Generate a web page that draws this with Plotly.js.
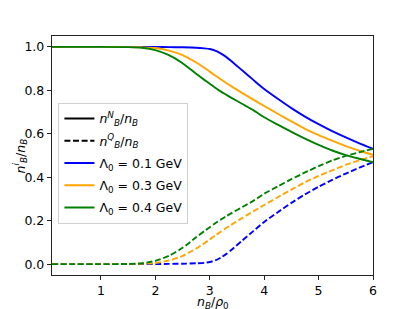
<!DOCTYPE html>
<html><head><meta charset="utf-8">
<script src="https://cdn.plot.ly/plotly-3.0.1.min.js"></script>
<style>html,body{margin:0;padding:0;background:#fff}#chart{width:415px;height:309px}</style>
</head><body><div id="chart"></div>
<script>
// density ratio n_B / rho_0
const xVals = [0.1, 0.5, 1.0, 1.5, 1.75, 2.0, 2.25, 2.5, 2.75, 2.9, 3.0, 3.1, 3.2, 3.3, 3.4, 3.6, 3.8, 4.0, 4.25, 4.5, 4.75, 5.0, 5.25, 5.5, 5.75, 6.0];
// nucleon fraction n_B^N / n_B
const nBlue   = [1.0, 1.0, 1.0, 1.0, 1.0, 1.0, 0.999, 0.998, 0.996, 0.993, 0.990, 0.983, 0.970, 0.954, 0.934, 0.891, 0.848, 0.806, 0.761, 0.718, 0.679, 0.644, 0.612, 0.583, 0.556, 0.531];
const nOrange = [1.0, 1.0, 1.0, 0.999, 0.998, 0.995, 0.983, 0.962, 0.928, 0.904, 0.886, 0.868, 0.851, 0.834, 0.818, 0.787, 0.757, 0.728, 0.692, 0.657, 0.623, 0.594, 0.568, 0.543, 0.522, 0.503];
const nGreen  = [1.0, 1.0, 1.0, 0.999, 0.996, 0.985, 0.962, 0.925, 0.876, 0.848, 0.830, 0.812, 0.795, 0.780, 0.765, 0.737, 0.709, 0.676, 0.642, 0.609, 0.578, 0.549, 0.523, 0.502, 0.485, 0.469];
// quark fraction n_B^Q / n_B
const qBlue   = [0.0, 0.0, 0.0, 0.0, 0.0, 0.0, 0.001, 0.002, 0.004, 0.006, 0.010, 0.017, 0.030, 0.046, 0.066, 0.109, 0.152, 0.194, 0.239, 0.282, 0.321, 0.356, 0.388, 0.417, 0.444, 0.469];
const qOrange = [0.0, 0.0, 0.0, 0.001, 0.002, 0.005, 0.017, 0.038, 0.072, 0.096, 0.114, 0.132, 0.149, 0.166, 0.182, 0.213, 0.243, 0.272, 0.308, 0.343, 0.377, 0.406, 0.432, 0.457, 0.478, 0.497];
const qGreen  = [0.0, 0.0, 0.0, 0.001, 0.004, 0.015, 0.038, 0.075, 0.124, 0.152, 0.170, 0.188, 0.205, 0.220, 0.235, 0.263, 0.291, 0.324, 0.358, 0.391, 0.422, 0.451, 0.477, 0.498, 0.515, 0.531];
const seriesNames = ["Λ<sub>0</sub> = 0.1 GeV", "Λ<sub>0</sub> = 0.3 GeV", "Λ<sub>0</sub> = 0.4 GeV"];
const seriesColors = ["#0000ff", "#ffa500", "#008000"];
const xTicks = [1, 2, 3, 4, 5, 6];
const yTicks = [0.0, 0.2, 0.4, 0.6, 0.8, 1.0];
const xTitle = "<i>n</i><sub><i>B</i></sub>/<i>ρ</i><sub>0</sub>";
const yTitle = "<i>n</i><sup><i>i</i></sup><sub><i>B</i></sub>/<i>n</i><sub><i>B</i></sub>";

const nSets = [nBlue, nOrange, nGreen];
const qSets = [qBlue, qOrange, qGreen];
const W = 1.9;
const DASH = "6px,2.6px";
const FS = 12.5;
const traces = [];
for (let i = 0; i < 3; i++) {
  traces.push({x: xVals, y: nSets[i], mode: "lines", line: {color: seriesColors[i], width: W, shape: "spline", smoothing: 0.6}, showlegend: false, hoverinfo: "skip"});
  traces.push({x: xVals, y: qSets[i], mode: "lines", line: {color: seriesColors[i], width: W, dash: DASH, shape: "spline", smoothing: 0.6}, showlegend: false, hoverinfo: "skip"});
}
// legend entries
traces.push({x: [null], y: [null], mode: "lines", line: {color: "#000", width: W}, legendgroup: "a", name: "<i>n</i><sup><i>N</i></sup><sub><i>B</i></sub>/<i>n</i><sub><i>B</i></sub>"});
traces.push({x: [null], y: [null], mode: "lines", line: {color: "#000", width: W, dash: DASH}, legendgroup: "b", name: "<i>n</i><sup><i>Q</i></sup><sub><i>B</i></sub>/<i>n</i><sub><i>B</i></sub>"});
for (let i = 0; i < 3; i++) {
  traces.push({x: [null], y: [null], mode: "lines", line: {color: seriesColors[i], width: W}, legendgroup: "c" + i, name: seriesNames[i]});
}

const axisCommon = {
  showline: true, mirror: true, linecolor: "#222", linewidth: 1.2,
  ticks: "outside", ticklen: 4, tickwidth: 1, tickcolor: "#222",
  showgrid: false, zeroline: false, automargin: false,
  tickfont: {family: "DejaVu Sans", size: FS, color: "#000"}
};
const layout = {
  width: 415, height: 309,
  margin: {l: 52, r: 42, t: 36, b: 34},
  paper_bgcolor: "#fff", plot_bgcolor: "#fff",
  font: {family: "DejaVu Sans", size: FS, color: "#000"},
  xaxis: Object.assign({}, axisCommon, {
    range: [0.1, 6], tickvals: xTicks, ticktext: xTicks.map(String)
  }),
  yaxis: Object.assign({}, axisCommon, {
    range: [-0.05, 1.05], tickvals: yTicks, ticktext: yTicks.map(v => v.toFixed(1))
  }),
  annotations: [
    {text: xTitle, xref: "paper", yref: "paper", x: 0.5, y: -0.114, xanchor: "center", yanchor: "middle", showarrow: false, font: {family: "DejaVu Sans", size: FS, color: "#000"}},
    {text: yTitle, xref: "paper", yref: "paper", x: -0.1, y: 0.5, xanchor: "center", yanchor: "middle", textangle: -90, showarrow: false, font: {family: "DejaVu Sans", size: FS, color: "#000"}}
  ],
  legend: {
    x: 0.02, y: 0.72, xanchor: "left", yanchor: "top",
    bgcolor: "rgba(255,255,255,0.8)", bordercolor: "#d0d0d0", borderwidth: 1,
    font: {family: "DejaVu Sans", size: FS, color: "#000"}, tracegroupgap: 3,
    traceorder: "grouped"
  },
  showlegend: true
};
Plotly.newPlot("chart", traces, layout, {staticPlot: true, displayModeBar: false});
</script>
</body></html>
